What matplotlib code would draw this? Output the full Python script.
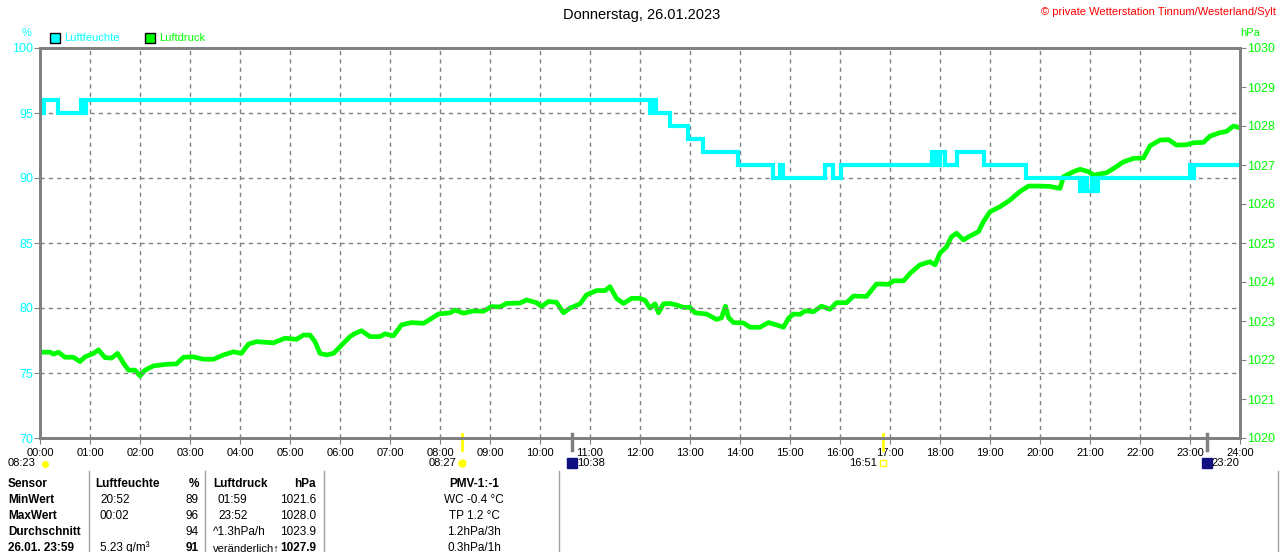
import matplotlib.pyplot as plt
from matplotlib.patches import Rectangle
from matplotlib.lines import Line2D
from matplotlib.transforms import blended_transform_factory

plt.rcParams['font.family'] = ['Liberation Sans', 'DejaVu Sans']

CYAN = '#00ffff'
GREEN = '#00ff00'
GRAY = '#808080'

title = 'Donnerstag, 26.01.2023'
copyright_text = '\u00a9 private Wetterstation Tinnum/Westerland/Sylt'

hours = list(range(25))
hour_labels = [f'{h:02d}:00' for h in hours]
hum_ticks = [70, 75, 80, 85, 90, 95, 100]
press_ticks = list(range(1020, 1031))

# Luftfeuchte (%), step values
hum_t = [0, 0.08, 0.36, 0.82, 0.86, 0.92, 12.2, 12.26, 12.32, 12.6, 12.96, 13.26,
         13.96, 14.66, 14.80, 14.86, 15.7, 15.86, 16.02, 17.84, 17.92, 18.0, 18.1,
         18.34, 18.88, 19.72, 20.8, 20.88, 20.94, 21.04, 21.1, 21.16, 23.0, 23.04,
         23.08, 24.0]
hum_v = [95, 96, 95, 96, 95, 96, 95, 96, 95, 94, 93, 92,
         91, 90, 91, 90, 91, 90, 91, 92, 91, 92, 91,
         92, 91, 90, 89, 90, 89, 90, 89, 90, 91, 90,
         91, 91]

# Luftdruck (hPa)
press_t = [0, 0.2, 0.27, 0.37, 0.5, 0.67, 0.8, 0.9, 1.07, 1.17, 1.3, 1.43, 1.55,
           1.67, 1.77, 1.9, 2.0, 2.1, 2.27, 2.53, 2.73, 2.87, 3.07, 3.27, 3.47,
           3.67, 3.87, 4.03, 4.17, 4.33, 4.67, 4.9, 5.13, 5.27, 5.4, 5.5, 5.6,
           5.73, 5.87, 5.97, 6.2, 6.3, 6.43, 6.6, 6.8, 6.9, 7.07, 7.23, 7.43,
           7.67, 7.8, 7.97, 8.2, 8.3, 8.47, 8.67, 8.87, 9.03, 9.2, 9.33, 9.6,
           9.73, 9.93, 10.03, 10.17, 10.33, 10.47, 10.6, 10.8, 10.93, 11.13, 11.3,
           11.4, 11.53, 11.67, 11.83, 12.0, 12.1, 12.2, 12.3, 12.37, 12.47, 12.6,
           12.73, 12.87, 13.0, 13.1, 13.33, 13.53, 13.63, 13.71, 13.77, 13.87,
           14.07, 14.2, 14.4, 14.57, 14.73, 14.87, 14.97, 15.07, 15.2, 15.3, 15.47,
           15.63, 15.8, 15.93, 16.13, 16.27, 16.53, 16.63, 16.73, 16.97, 17.07,
           17.27, 17.4, 17.6, 17.8, 17.9, 18.0, 18.13, 18.23, 18.33, 18.47, 18.6,
           18.77, 18.87, 19.0, 19.2, 19.4, 19.6, 19.77, 20.0, 20.2, 20.4, 20.47,
           20.67, 20.8, 20.97, 21.07, 21.33, 21.47, 21.67, 21.87, 22.07, 22.2,
           22.4, 22.57, 22.73, 22.93, 23.07, 23.27, 23.4, 23.6, 23.73, 23.87, 24.0]
press_v = [1022.2, 1022.2, 1022.15, 1022.2, 1022.07, 1022.07, 1021.96, 1022.08,
           1022.17, 1022.26, 1022.06, 1022.05, 1022.17, 1021.92, 1021.74, 1021.74,
           1021.59, 1021.74, 1021.85, 1021.89, 1021.9, 1022.07, 1022.08, 1022.02,
           1022.02, 1022.13, 1022.21, 1022.17, 1022.41, 1022.47, 1022.44, 1022.56,
           1022.53, 1022.64, 1022.64, 1022.47, 1022.17, 1022.13, 1022.17, 1022.3,
           1022.6, 1022.68, 1022.75, 1022.6, 1022.6, 1022.67, 1022.62, 1022.9,
           1022.96, 1022.94, 1023.04, 1023.18, 1023.21, 1023.28, 1023.2, 1023.26,
           1023.25, 1023.37, 1023.36, 1023.45, 1023.46, 1023.54, 1023.47, 1023.37,
           1023.5, 1023.48, 1023.21, 1023.33, 1023.44, 1023.67, 1023.78, 1023.78,
           1023.88, 1023.58, 1023.45, 1023.58, 1023.58, 1023.53, 1023.33, 1023.44,
           1023.21, 1023.44, 1023.45, 1023.41, 1023.35, 1023.35, 1023.21, 1023.18,
           1023.04, 1023.08, 1023.38, 1023.09, 1022.96, 1022.95, 1022.84, 1022.84,
           1022.96, 1022.9, 1022.84, 1023.07, 1023.18, 1023.17, 1023.26, 1023.24,
           1023.38, 1023.3, 1023.47, 1023.47, 1023.64, 1023.63, 1023.79, 1023.95,
           1023.94, 1024.03, 1024.03, 1024.22, 1024.44, 1024.52, 1024.44, 1024.74,
           1024.9, 1025.16, 1025.25, 1025.08, 1025.18, 1025.29, 1025.55, 1025.8,
           1025.93, 1026.1, 1026.32, 1026.46, 1026.46, 1026.45, 1026.4, 1026.7,
           1026.83, 1026.89, 1026.83, 1026.74, 1026.8, 1026.91, 1027.08, 1027.17,
           1027.18, 1027.49, 1027.64, 1027.65, 1027.51, 1027.52, 1027.57, 1027.58,
           1027.74, 1027.83, 1027.86, 1028.0, 1027.95]

# Sonnen- und Mondauf-/untergang
sun_times = [8 + 27 / 60, 16 + 51 / 60]
sun_labels = ['08:27', '16:51']
moon_times = [10 + 38 / 60, 23 + 20 / 60]
moon_labels = ['10:38', '23:20']

# Tabelle
table_x_lines = [89, 205, 324, 559, 1278]
row_y = [484, 500, 516, 532, 548]
col_sensor = ['Sensor', 'MinWert', 'MaxWert', 'Durchschnitt', '26.01. 23:59']
col_hum_time = ['Luftfeuchte', '20:52', '00:02', '', '5.23 g/m\u00b3']
col_hum_val = ['%', '89', '96', '94', '91']
col_press_time = ['Luftdruck', '01:59', '23:52', '^1.3hPa/h', 'ver\u00e4nderlich\u2191']
col_press_val = ['hPa', '1021.6', '1028.0', '1023.9', '1027.9']
col_pmv = ['PMV-1:-1', 'WC -0.4 \u00b0C', 'TP 1.2 \u00b0C', '1.2hPa/3h', '0.3hPa/1h']

W, H = 1280, 552
fig = plt.figure(figsize=(W / 100, H / 100), dpi=100)


def fx(x):
    return x / W


def fy(y):
    return 1 - y / H


ax2 = fig.add_axes([fx(40), fy(438), 1200 / W, 390 / H])
ax = ax2.twinx()
ax.yaxis.tick_left()
ax2.yaxis.tick_right()

# humidity on the left, drawn on top
ax.step(hum_t, hum_v, where='post', color=CYAN, lw=3, solid_joinstyle='miter')
ax2.plot(press_t, press_v, color=GREEN, lw=3.4)

ax.set_xlim(0, 24)
ax.set_ylim(70, 100)
ax2.set_ylim(1020, 1030)

ax2.set_xticks(hours)
ax2.set_xticklabels(hour_labels, fontsize=8)
ax.set_yticks(hum_ticks)
ax.set_yticklabels([str(v) for v in hum_ticks], color=CYAN, fontsize=9)
ax2.set_yticks(press_ticks)
ax2.set_yticklabels([str(v) for v in press_ticks], color=GREEN, fontsize=9)
ax.tick_params(axis='y', length=4, color=GRAY, pad=1)
ax2.tick_params(axis='y', length=4, color=GRAY, pad=1)
ax2.tick_params(axis='x', length=4, color=GRAY, pad=3)

ax2.grid(True, axis='x', color=GRAY, lw=1, linestyle=(0, (3, 3)))
ax.grid(True, axis='y', color=GRAY, lw=1, linestyle=(0, (3, 3)))
for a in (ax, ax2):
    for s in a.spines.values():
        s.set_color(GRAY)
        s.set_linewidth(2)

# sun / moon ticks below the axis
trans = blended_transform_factory(ax2.transData, ax2.transAxes)
for t, lab in zip(sun_times, sun_labels):
    ax2.plot([t, t], [0.01, -0.03], color='#ffff00', lw=2, transform=trans, clip_on=False)
    ax2.text(t - 0.12, -0.064, lab, transform=trans, ha='right', va='center', fontsize=8)
marker_styles = ['o', 's']
for t, m in zip(sun_times, marker_styles):
    ax2.plot([t], [-0.064], marker=m, ms=5, mfc='#ffff00' if m == 'o' else 'white',
             mec='#ffff00', transform=trans, clip_on=False)
for t, lab in zip(moon_times, moon_labels):
    ax2.plot([t, t], [0.01, -0.03], color=GRAY, lw=2.5, transform=trans, clip_on=False)
    ax2.plot([t], [-0.064], marker='s', ms=7, color='#101080', transform=trans, clip_on=False)
    ax2.text(t + 0.1, -0.064, lab, transform=trans, ha='left', va='center', fontsize=8)

fig.text(fx(8), fy(463), '08:23', ha='left', va='center', fontsize=8)
fig.add_artist(Line2D([fx(45)], [fy(464)], marker='o', ms=4, color='#ffff00'))

# header texts
fig.text(fx(642), fy(15), title, ha='center', va='center', fontsize=10.5)
fig.text(fx(1276), fy(12), copyright_text, ha='right', va='center', fontsize=8, color='red')
fig.text(fx(27), fy(33), '%', ha='center', va='center', fontsize=8, color=CYAN)
fig.text(fx(1250), fy(33), 'hPa', ha='center', va='center', fontsize=8, color=GREEN)

# legend
for x0, col, lab in [(50, CYAN, 'Luftfeuchte'), (145, GREEN, 'Luftdruck')]:
    fig.add_artist(Rectangle((fx(x0), fy(43)), 10 / W, 10 / H, facecolor=col,
                             edgecolor='black', lw=1, transform=fig.transFigure))
    fig.text(fx(x0 + 14), fy(38), lab, ha='left', va='center', fontsize=8, color=col)

# table
for x in table_x_lines:
    fig.add_artist(Line2D([fx(x), fx(x)], [fy(471), 0], color='#a0a0a0', lw=1))

for i, y in enumerate(row_y):
    fig.text(fx(8), fy(y), col_sensor[i], ha='left', va='center', fontsize=8.5, weight='bold')
    w = 'bold' if i == 0 else 'normal'
    fig.text(fx(95 if i == 0 else 100), fy(y), col_hum_time[i], ha='left', va='center',
             fontsize=8.5, weight=w)
    fig.text(fx(199), fy(y), col_hum_val[i], ha='right', va='center', fontsize=8.5,
             weight='bold' if i in (0, 4) else 'normal')
    fig.text(fx(213 if i in (0, 3, 4) else 218), fy(y), col_press_time[i], ha='left',
             va='center', fontsize=8 if i == 4 else 8.5, weight=w)
    fig.text(fx(316), fy(y), col_press_val[i], ha='right', va='center', fontsize=8.5,
             weight='bold' if i in (0, 4) else 'normal')
    fig.text(fx(474), fy(y), col_pmv[i], ha='center', va='center', fontsize=8.5, weight=w)

fig.savefig('out.png', dpi=100, facecolor='white')
